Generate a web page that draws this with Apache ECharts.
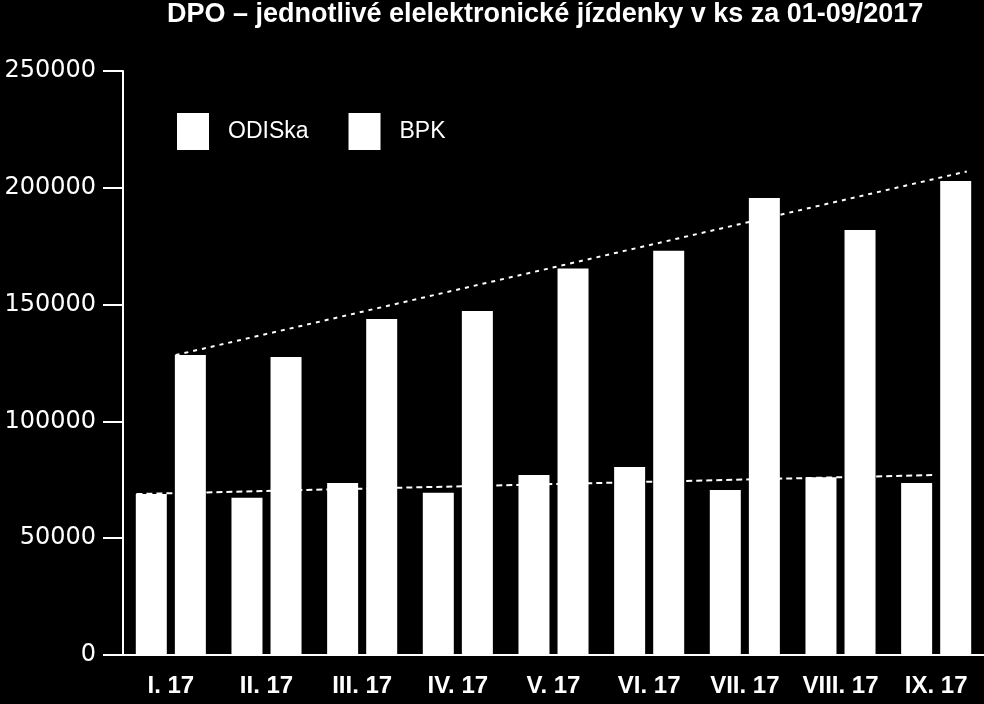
<!DOCTYPE html>
<html>
<head>
<meta charset="utf-8">
<script src="https://cdn.jsdelivr.net/npm/echarts@6/dist/echarts.min.js"></script>
<style>html,body{margin:0;padding:0;background:#000;}#c{width:984px;height:704px;}</style>
</head>
<body>
<div id="c"></div>
<script>
var titleText = 'DPO – jednotlivé elelektronické jízdenky v ks za 01-09/2017';
var categories = ['I. 17', 'II. 17', 'III. 17', 'IV. 17', 'V. 17', 'VI. 17', 'VII. 17', 'VIII. 17', 'IX. 17'];
var odiska = [68900, 67300, 73600, 69500, 77100, 80500, 70600, 76100, 73600];
var bpk = [128400, 127600, 143800, 147300, 165500, 173000, 195600, 181900, 202900];
// trend lines: x in category units, y in values
var odiskaTrendX = [-0.36, 7.97];
var odiskaTrendY = [68900, 77050];
var bpkTrendX = [0.05, 8.32];
var bpkTrendY = [128400, 207000];
var yTicks = { min: 0, max: 250000, interval: 50000 };

function pairs(xs, ys) { return xs.map(function (x, i) { return [x, ys[i]]; }); }

var chart = echarts.init(document.getElementById('c'));
chart.setOption({
  backgroundColor: '#000',
  animation: false,
  title: {
    text: titleText, left: 167, top: 1, padding: 0,
    textStyle: { color: '#fff', fontFamily: 'Liberation Sans', fontWeight: 'bold', fontSize: 27 }
  },
  legend: {
    data: ['ODISka', 'BPK'], left: 177, top: 113, icon: 'rect', padding: 0,
    itemWidth: 32, itemHeight: 37, itemGap: 40,
    textStyle: { color: '#fff', fontFamily: 'Liberation Sans', fontSize: 23, padding: [0, 0, 0, 14] }
  },
  grid: { left: 123, right: 0, top: 71, bottom: 49, containLabel: false },
  xAxis: [{
    type: 'category', data: categories,
    axisLine: { lineStyle: { color: '#fff', width: 2 } },
    axisTick: { show: false },
    axisLabel: { interval: 0, color: '#fff', fontFamily: 'Liberation Sans', fontWeight: 'bold', fontSize: 24, margin: 19 }
  }, {
    type: 'value', min: -0.5, max: 8.5, show: false
  }],
  yAxis: {
    type: 'value', min: yTicks.min, max: yTicks.max, interval: yTicks.interval,
    axisLine: { show: true, onZero: false, lineStyle: { color: '#fff', width: 2 } },
    axisTick: { show: true, length: 20, lineStyle: { color: '#fff', width: 2 } },
    splitLine: { show: false },
    axisLabel: { color: '#fff', fontFamily: 'DejaVu Sans', fontSize: 24, margin: 27,
      formatter: function (v) { return String(v); } }
  },
  series: [
    { name: 'ODISka', type: 'bar', data: odiska, barWidth: 31, barGap: '26%', itemStyle: { color: '#fff' } },
    { name: 'BPK', type: 'bar', data: bpk, barWidth: 31, barGap: '26%', itemStyle: { color: '#fff' } },
    { name: 'ODISka trend', type: 'line', xAxisIndex: 1, data: pairs(odiskaTrendX, odiskaTrendY), symbol: 'none',
      lineStyle: { color: '#fff', width: 2, type: [6, 4] }, z: 5 },
    { name: 'BPK trend', type: 'line', xAxisIndex: 1, data: pairs(bpkTrendX, bpkTrendY), symbol: 'none',
      lineStyle: { color: '#fff', width: 2, type: [4, 5] }, z: 5 }
  ]
});
</script>
</body>
</html>
